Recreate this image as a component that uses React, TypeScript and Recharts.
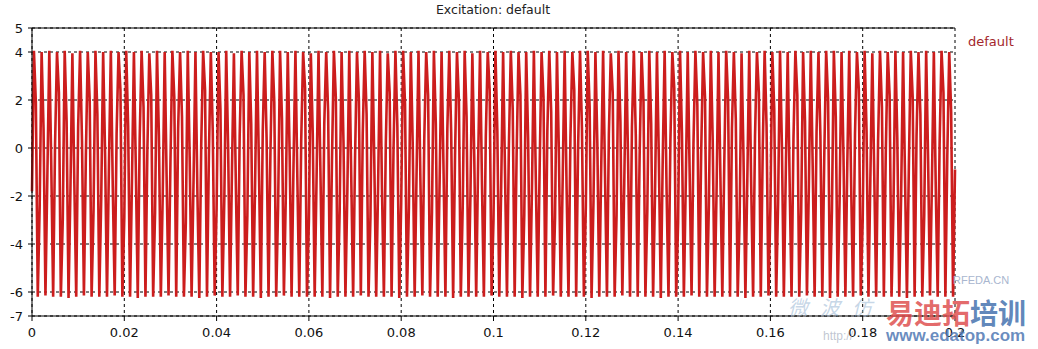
import React from 'react';
import {
  CartesianGrid,
  Line,
  LineChart,
  ReferenceLine,
  XAxis,
  YAxis,
} from 'recharts';

// excitation samples, 4 per cycle (first value is t = 0)
const excitation = [
  -1.8,
  4.05,1.9,-6.2,-2.4, 4.0,0.8,-6.15,-1.1, 4.05,-0.6,-6.2,0.2, 4.0,2.3,-6.2,-3.0, 4.05,1.1,-6.25,-1.7, 3.95,-1.4,-6.2,0.9, 4.05,0.3,-6.15,-0.4, 4.0,2.0,-6.2,-2.6,
  4.05,1.4,-6.2,-2.1, 4.0,-0.2,-6.2,-0.8, 4.05,-1.6,-6.15,0.6, 4.0,2.4,-6.2,-2.9, 4.05,0.9,-6.2,-1.3, 4.0,-0.9,-6.25,0.4, 4.05,1.7,-6.2,-0.1, 3.95,2.2,-6.2,-2.7,
  4.05,0.5,-6.2,-1.9, 4.0,-1.2,-6.15,-0.6, 4.05,2.1,-6.2,0.8, 4.0,1.3,-6.2,-3.1, 4.05,-0.4,-6.2,-1.4, 4.0,-1.8,-6.25,0.1, 4.05,2.4,-6.2,-0.3, 4.0,0.7,-6.15,-2.5,
  4.0,1.6,-6.2,-2.2, 4.05,0.0,-6.2,-0.9, 3.95,-1.5,-6.15,0.5, 4.05,2.2,-6.2,-2.8, 4.0,1.0,-6.2,-1.6, 4.05,-0.7,-6.25,0.7, 4.0,0.4,-6.2,-0.2, 4.05,1.9,-6.2,-2.4,
  4.05,1.2,-6.15,-2.0, 4.0,-0.3,-6.2,-0.7, 4.05,-1.3,-6.2,0.3, 4.0,2.5,-6.2,-3.0, 3.95,0.6,-6.2,-1.2, 4.05,-1.0,-6.2,1.0, 4.0,1.5,-6.25,-0.5, 4.05,2.1,-6.2,-2.6,
  4.0,0.2,-6.2,-1.8, 4.05,-1.1,-6.2,-0.4, 4.0,2.0,-6.15,0.6, 4.05,1.4,-6.2,-2.9, 4.0,-0.5,-6.2,-1.5, 4.05,-1.7,-6.2,0.2, 3.95,2.3,-6.2,-0.1, 4.05,0.9,-6.25,-2.3,
  4.05,1.8,-6.2,-2.5, 4.0,0.1,-6.2,-1.0, 4.05,-1.4,-6.15,0.4, 4.0,2.2,-6.2,-2.7, 4.05,1.0,-6.2,-1.3, 4.0,-0.8,-6.2,0.8, 4.05,0.6,-6.25,-0.3, 4.0,2.0,-6.2,-2.4,
  4.05,1.3,-6.2,-2.0, 3.95,-0.4,-6.2,-0.6, 4.05,-1.5,-6.2,0.5, 4.0,2.4,-6.15,-3.0, 4.05,0.7,-6.2,-1.6, 4.0,-1.1,-6.2,0.1, 4.05,1.6,-6.2,-0.4, 4.0,2.2,-6.25,-2.8,
  4.0,0.4,-6.2,-1.7, 4.05,-1.3,-6.2,-0.8, 4.0,2.1,-6.2,0.7, 4.05,1.5,-6.15,-2.9, 4.0,-0.2,-6.2,-1.2, 4.05,-1.6,-6.2,0.4, 4.0,2.4,-6.2,0.0, 4.05,0.8,-6.2,-2.5,
  4.05,1.7,-6.25,-2.2, 4.0,0.2,-6.2,-0.9, 4.05,-1.2,-6.2,0.6, 3.95,2.3,-6.2,-2.8, 4.05,1.1,-6.15,-1.5, 4.0,-0.6,-6.2,0.9, 4.05,0.5,-6.2,-0.3, 4.0,1.9,-6.2,-2.6,
  4.05,1.0,-6.2,-1.9, 4.0,-0.5,-6.25,-0.5, 4.05,-1.7,-6.2,0.3, 4.0,2.5,-6.2,-3.1, 4.05,0.6,-6.2,-1.4, 4.0,-1.0,-6.15,0.2, 4.05,1.8,-6.2,-0.2, 4.0,2.1,-6.2,-2.4,
  4.05,0.3,-6.2,-1.8, 4.0,-1.2,-6.2,-0.7, 4.05,2.0,-6.2,0.8, 4.0,1.2,-6.2,-2.9, 3.95,-0.3,-6.25,-1.3, 4.05,-1.5,-6.2,0.5, 4.0,2.3,-6.2,-0.1, 4.05,0.9,-6.15,-2.5,
  4.0,1.6,-6.2,-2.3, 4.05,0.0,-6.2,-1.0, 4.0,-1.4,-6.2,0.4, 4.05,2.2,-6.2,-2.7, 4.0,1.1,-6.15,-1.6, 4.05,-0.8,-6.2,0.7, 4.0,0.5,-6.2,-0.4, 4.05,2.0,-6.25,-2.6,
  4.05,1.3,-6.2,-2.1, 4.0,-0.3,-6.2,-0.6, 4.05,-1.6,-6.2,0.6, 4.0,2.4,-6.15,-3.0, 4.05,0.7,-6.2,-1.2, 3.95,-1.1,-6.2,0.3, 4.05,1.7,-6.2,-0.2, 4.0,2.2,-6.2,-2.5,
  4.05,0.4,-6.2,-1.9, 4.0,-1.2,-6.25,-0.8, 4.05,2.1,-6.2,0.5, 4.0,1.4,-6.2,-2.8, 4.05,-0.4,-6.15,-1.4, 4.0,-1.7,-6.2,0.2, 4.05,2.3,-6.2,-0.3, 4.0,1.5,-6.2,-0.9,
];

const tStart = 0;
const tEnd = 0.2;

const xTicks = [0, 0.02, 0.04, 0.06, 0.08, 0.1, 0.12, 0.14, 0.16, 0.18, 0.2];
const yTicks = [-7, -6, -4, -2, 0, 2, 4, 5];

const title = 'Excitation: default';
const seriesName = 'default';

const step = (tEnd - tStart) / (excitation.length - 1);
const data = excitation.map((v, i) => ({ t: tStart + i * step, default: v }));

const font = 'DejaVu Sans, Verdana, sans-serif';

export default function App() {
  return (
    <div
      style={{
        position: 'absolute',
        left: 0,
        top: 0,
        width: 1038,
        height: 349,
        background: '#fff',
        fontFamily: font,
      }}
    >
      <div
        style={{
          position: 'absolute',
          left: 393,
          width: 200,
          top: 2,
          textAlign: 'center',
          fontSize: 12.5,
          color: '#222',
        }}
      >
        {title}
      </div>
      <div
        style={{
          position: 'absolute',
          left: 968,
          top: 34,
          fontSize: 13,
          color: '#a3262c',
        }}
      >
        {seriesName}
      </div>
      <LineChart
        width={1038}
        height={349}
        data={data}
        margin={{ top: 28, right: 83, bottom: 13, left: 0 }}
      >
        <CartesianGrid stroke="#000" strokeDasharray="3 3" />
        <XAxis
          dataKey="t"
          type="number"
          domain={[0, 0.2]}
          ticks={xTicks}
          tickFormatter={(v) => String(v)}
          height={20}
          tickSize={5}
          tickMargin={7}
          stroke="#000"
          tick={{ fill: '#111', fontSize: 13, fontFamily: font }}
        />
        <YAxis
          type="number"
          domain={[-7, 5]}
          ticks={yTicks}
          width={32}
          tickSize={4}
          tickMargin={5}
          stroke="#000"
          interval={0}
          tick={{ fill: '#111', fontSize: 13, fontFamily: font }}
        />
        <ReferenceLine y={5} stroke="#000" strokeWidth={1} />
        <Line
          type="linear"
          dataKey="default"
          stroke="#cc1d1d"
          strokeWidth={2.6}
          dot={false}
          isAnimationActive={false}
        />
      </LineChart>
      {/* watermark */}
      <div
        style={{
          position: 'absolute',
          left: 953,
          top: 274,
          fontSize: 11,
          color: '#a9b6cf',
          fontFamily: 'Liberation Sans, sans-serif',
        }}
      >
        RFEDA.CN
      </div>
      <div
        style={{
          position: 'absolute',
          left: 788,
          top: 292,
          fontSize: 20,
          letterSpacing: 12,
          fontStyle: 'italic',
          color: 'rgba(150,180,210,0.55)',
          fontFamily: 'Noto Sans CJK SC, sans-serif',
        }}
      >
        微波仿
      </div>
      <div
        style={{
          position: 'absolute',
          left: 886,
          top: 296,
          fontSize: 28,
          fontWeight: 'bold',
          lineHeight: '32px',
          fontFamily: 'Noto Sans CJK SC, sans-serif',
        }}
      >
        <span style={{ color: 'rgba(222,80,80,0.85)' }}>易迪拓</span>
        <span style={{ color: 'rgba(70,115,175,0.85)' }}>培训</span>
      </div>
      <div
        style={{
          position: 'absolute',
          left: 823,
          top: 329,
          fontSize: 12,
          color: 'rgba(150,160,180,0.6)',
          fontFamily: 'Liberation Sans, sans-serif',
        }}
      >
        http://
      </div>
      <div
        style={{
          position: 'absolute',
          left: 886,
          top: 326,
          fontSize: 17,
          fontWeight: 'bold',
          color: 'rgba(80,120,180,0.85)',
          fontFamily: 'Liberation Sans, sans-serif',
        }}
      >
        www.edatop.com
      </div>
    </div>
  );
}
